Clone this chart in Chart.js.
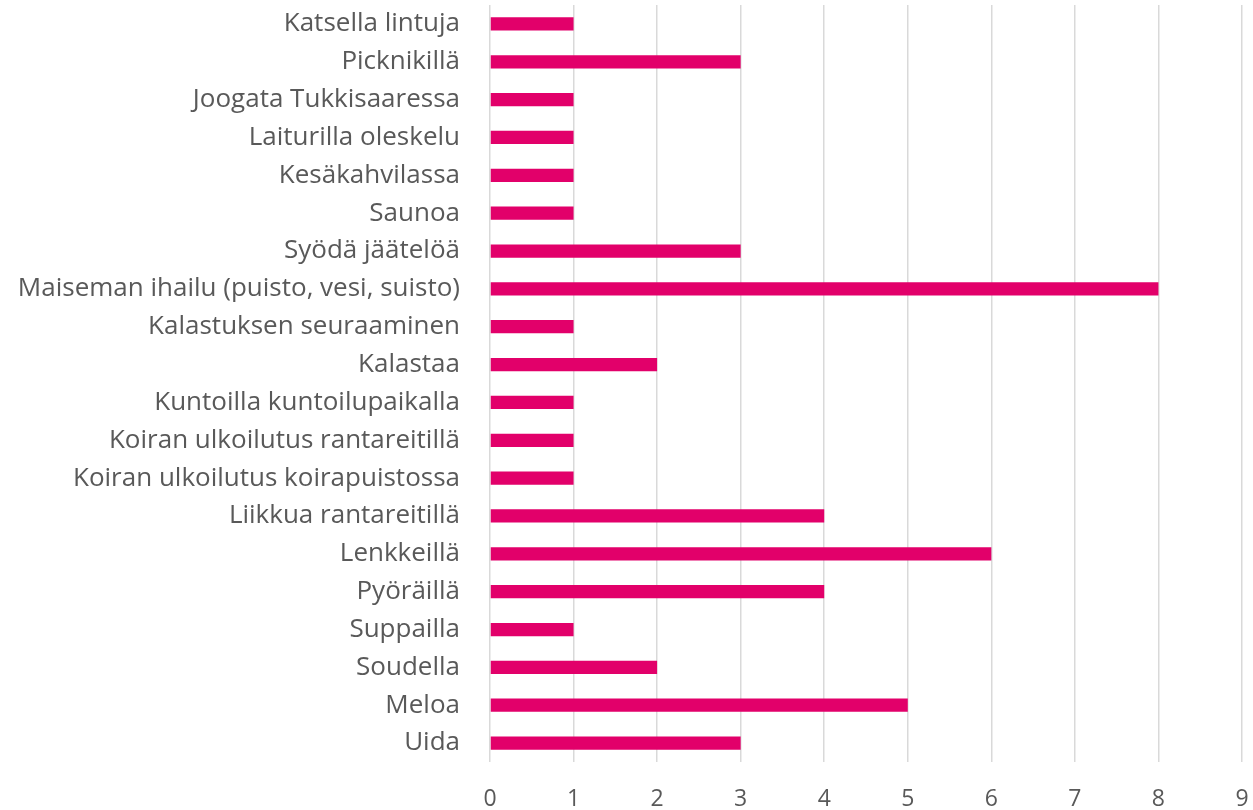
<!DOCTYPE html>
<html>
<head>
<meta charset="utf-8">
<script src="https://cdn.jsdelivr.net/npm/chart.js@4/dist/chart.umd.min.js"></script>
<style>
  html, body { margin: 0; padding: 0; background: #fff; }
  #wrap { width: 1253px; height: 810px; position: relative; }
</style>
</head>
<body>
<div id="wrap"><canvas id="chart"></canvas></div>
<script>
// data, top to bottom as in the picture
const categories = [
    'Katsella lintuja', 'Picknikillä', 'Joogata Tukkisaaressa', 'Laiturilla oleskelu',
    'Kesäkahvilassa', 'Saunoa', 'Syödä jäätelöä', 'Maiseman ihailu (puisto, vesi, suisto)',
    'Kalastuksen seuraaminen', 'Kalastaa', 'Kuntoilla kuntoilupaikalla',
    'Koiran ulkoilutus rantareitillä', 'Koiran ulkoilutus koirapuistossa',
    'Liikkua rantareitillä', 'Lenkkeillä', 'Pyöräillä', 'Suppailla', 'Soudella', 'Meloa', 'Uida'
];
const counts = [1, 3, 1, 1, 1, 1, 3, 8, 1, 2, 1, 1, 1, 4, 6, 4, 1, 2, 5, 3];
const xTicks = [0, 1, 2, 3, 4, 5, 6, 7, 8, 9];

const fontFamily = '"Open Sans", "Noto Sans", sans-serif';
const textColor = '#595959';

new Chart(document.getElementById('chart'), {
    type: 'bar',
    data: {
        labels: categories,
        datasets: [{
            data: counts,
            backgroundColor: '#E2006A',
            barPercentage: 0.35,
            categoryPercentage: 1
        }]
    },
    options: {
        indexAxis: 'y',
        responsive: true,
        maintainAspectRatio: false,
        animation: false,
        layout: { padding: { top: 5, right: 11, bottom: 0, left: 0 } },
        plugins: { legend: { display: false }, tooltip: { enabled: false } },
        scales: {
            x: {
                min: xTicks[0], max: xTicks[xTicks.length - 1],
                afterBuildTicks: (axis) => { axis.ticks = xTicks.map(v => ({ value: v })); },
                afterFit: (axis) => {
                    axis.height = 48;
                    axis.paddingLeft = 0;
                    axis.paddingRight = 0;
                },
                grid: { color: '#d9d9d9', lineWidth: 1.5, drawTicks: false },
                border: { display: false },
                ticks: { padding: 24, color: textColor, font: { family: fontFamily, size: 23 } }
            },
            y: {
                afterFit: (axis) => {
                    axis.width = 490;
                    axis.paddingTop = 0;
                    axis.paddingBottom = 0;
                },
                grid: { display: false },
                border: { display: false },
                ticks: { padding: 22, color: textColor, autoSkip: false, font: { family: fontFamily, size: 26 } }
            }
        }
    }
});
</script>
</body>
</html>
